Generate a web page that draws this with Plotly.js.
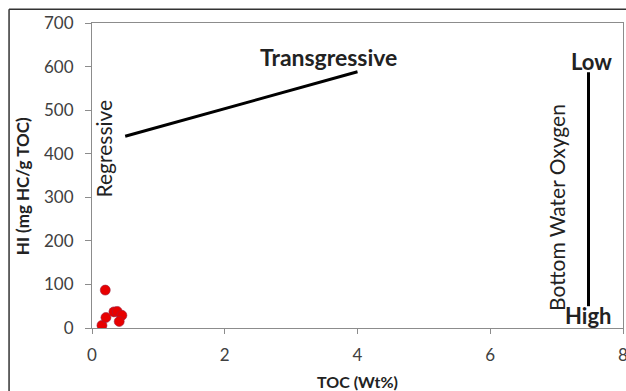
<!DOCTYPE html>
<html>
<head>
<meta charset="utf-8">
<script src="https://cdn.plot.ly/plotly-3.0.1.min.js"></script>
<style>html,body{margin:0;padding:0;background:#fff;}#chart{width:626px;height:391px;}</style>
</head>
<body>
<div id="chart"></div>
<script>
// Sample data (TOC wt%, HI mg HC/g TOC)
var tocValues = [0.20, 0.15, 0.21, 0.33, 0.38, 0.45, 0.41];
var hiValues  = [87, 6, 24, 37, 38, 29, 15];

// Trend line: Regressive -> Transgressive
var trendToc = [0.5, 4.0];
var trendHi  = [440, 588];

// Bottom water oxygen scale line
var oxyToc = [7.48, 7.48];
var oxyHi  = [587, 50];

var xTicks = [0, 2, 4, 6, 8];
var yTicks = [0, 100, 200, 300, 400, 500, 600, 700];

var font = 'Lato, "Open Sans", sans-serif';

var traces = [
  {x: trendToc, y: trendHi, mode: 'lines', line: {color: '#000', width: 3}, hoverinfo: 'skip'},
  {x: oxyToc, y: oxyHi, mode: 'lines', line: {color: '#000', width: 3}, hoverinfo: 'skip'},
  {x: tocValues, y: hiValues, mode: 'markers',
   marker: {color: '#e80000', size: 10, line: {color: '#9a2040', width: 0.6}}}
];

var ann = function(text, x, y, size, bold, angle) {
  return {x: x, y: y, xref: 'x', yref: 'y', text: bold ? '<b>' + text + '</b>' : text,
    showarrow: false, textangle: angle || 0, xanchor: 'center', yanchor: 'middle',
    font: {family: font, size: size, color: '#222'}};
};

var layout = {
  width: 626, height: 391,
  margin: {l: 92, r: 3, t: 23, b: 63},
  paper_bgcolor: '#fff', plot_bgcolor: '#fff',
  showlegend: false,
  font: {family: font, color: '#404040'},
  xaxis: {
    range: [0, 8], tickvals: xTicks, ticktext: xTicks.map(String),
    showgrid: false, zeroline: false, showline: true, linecolor: '#8c8c8c', linewidth: 1, mirror: true,
    ticks: 'outside', ticklen: 5, tickcolor: '#8c8c8c', ticklabeloverflow: 'allow',
    tickfont: {family: font, size: 17, color: '#404040'}, ticklabelstandoff: 7,
    title: {text: '<b>TOC (Wt%)</b>', font: {family: font, size: 16, color: '#222'}, standoff: 12}
  },
  yaxis: {
    range: [0, 700], tickvals: yTicks, ticktext: yTicks.map(String),
    showgrid: false, zeroline: false, showline: true, linecolor: '#8c8c8c', linewidth: 1, mirror: true,
    ticks: 'outside', ticklen: 6, tickcolor: '#8c8c8c',
    tickfont: {family: font, size: 17, color: '#404040'}, ticklabelstandoff: 8
  },
  annotations: [
    {x: -0.1318, y: 0.465, xref: 'paper', yref: 'paper', text: '<b>HI (mg HC/g TOC)</b>',
     xanchor: 'center', yanchor: 'middle',
     showarrow: false, textangle: -90, font: {family: font, size: 17, color: '#222'}},
    ann('Transgressive', 3.57, 623, 23, true, 0),
    ann('Regressive', 0.18, 412, 21, false, -90),
    ann('Bottom Water Oxygen', 7.0, 277, 21, false, -90),
    ann('Low', 7.52, 612, 22, true, 0),
    ann('High', 7.47, 29, 22, true, 0)
  ],
  shapes: [
    {type: 'line', xref: 'paper', yref: 'paper', x0: -0.1562, x1: 1.01, y0: 1.0449, y1: 1.0449, line: {color: '#333', width: 1.5}},
    {type: 'line', xref: 'paper', yref: 'paper', x0: -0.1562, x1: -0.1562, y0: 1.0449, y1: -0.3, line: {color: '#333', width: 1.5}}
  ]
};

Plotly.newPlot('chart', traces, layout, {displayModeBar: false, staticPlot: true});
</script>
</body>
</html>
